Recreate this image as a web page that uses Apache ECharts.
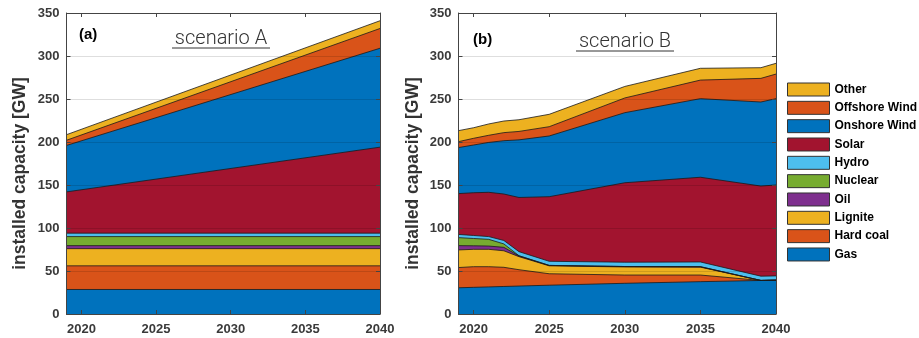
<!DOCTYPE html>
<html>
<head>
<meta charset="utf-8">
<script src="https://cdn.jsdelivr.net/npm/echarts@6/dist/echarts.min.js"></script>
<style>
  html, body { margin: 0; padding: 0; background: #fff; }
  #chart { width: 919px; height: 338px; }
</style>
</head>
<body>
<div id="chart"></div>
<script>
// Installed capacity [GW] per technology, two scenarios

// Scenario A: straight-line development between start and end year
const yearsA = [2019, 2040];
const gasA = [28.5, 28.5];
const hardCoalA = [27.5, 27.5];
const ligniteA = [20, 20];
const oilA = [3.5, 3.5];
const nuclearA = [10.5, 10.5];
const hydroA = [4, 4];
const solarA = [48, 100];
const onshoreA = [54, 115];
const offshoreA = [6, 23];
const otherA = [6.5, 9];

// Scenario B
const yearsB = [2019, 2020, 2021, 2022, 2023, 2025, 2030, 2035, 2039, 2040];
const gasB = [30.5, 31, 31.5, 32, 32.5, 33.5, 35.7, 37.6, 39, 39.3];
const hardCoalB = [23.5, 24, 23.5, 22.3, 19, 13.3, 9.6, 7.7, 0, 0];
const ligniteB = [20.5, 20.2, 20.2, 19.2, 15.2, 9.2, 9.4, 9.2, 0, 0];
const oilB = [5, 4.1, 3.8, 4, 0.8, 0.5, 0.5, 0.5, 0, 0];
const nuclearB = [9.3, 8.5, 7.8, 4, 0.3, 0, 0, 0, 0, 0];
const hydroB = [3.7, 3.5, 3.2, 4, 4.7, 4.8, 5, 5.5, 5, 5];
const solarB = [47.5, 49.7, 51.5, 54, 63, 75.1, 92.4, 98.5, 104.8, 105.7];
const onshoreB = [53.5, 55.5, 58, 62, 67, 70.6, 81.5, 91.4, 97.7, 100.4];
const offshoreB = [6.9, 7.8, 8.3, 9.4, 9.8, 10.8, 17.1, 21.6, 27.5, 28.6];
const otherB = [12.8, 12.3, 13.2, 13.5, 13.6, 14.4, 13.4, 13.7, 12.4, 12.5];

// Stacking order (bottom to top) and fill colours
const techNames = ['Gas', 'Hard coal', 'Lignite', 'Oil', 'Nuclear', 'Hydro',
                   'Solar', 'Onshore Wind', 'Offshore Wind', 'Other'];
const techColors = ['#0072BD', '#D95319', '#EDB120', '#7E2F8E', '#77AC30', '#4DBEEE',
                    '#A2142F', '#0072BD', '#D95319', '#EDB120'];
const valuesA = [gasA, hardCoalA, ligniteA, oilA, nuclearA, hydroA, solarA, onshoreA, offshoreA, otherA];
const valuesB = [gasB, hardCoalB, ligniteB, oilB, nuclearB, hydroB, solarB, onshoreB, offshoreB, otherB];

const xTicks = [2020, 2025, 2030, 2035, 2040];

const axisColor = '#444';
const labelColor = '#3a3a3a';
const font = 'Liberation Sans, Arial, sans-serif';

// Value-axis stacking: each layer is drawn at its running total and filled
// down to zero; upper layers are drawn first so lower ones sit on top.
function makeSeries(years, values, gridIdx) {
  const running = years.map(() => 0);
  const totals = values.map(arr => arr.map((v, k) => (running[k] += v)));
  const out = [];
  for (let i = techNames.length - 1; i >= 0; i--) {
    out.push({
      name: techNames[i],
      type: 'line',
      xAxisIndex: gridIdx * 2,
      yAxisIndex: gridIdx * 2,
      data: years.map((y, k) => [y, totals[i][k]]),
      showSymbol: false,
      symbol: 'none',
      lineStyle: { color: '#1a1a1a', width: 0.8 },
      itemStyle: { color: techColors[i] },
      areaStyle: { color: techColors[i], opacity: 1, origin: 'start' },
      emphasis: { disabled: true },
      silent: true,
      z: 2
    });
  }
  return out;
}

function bottomX(gridIdx) {
  return {
    type: 'value', gridIndex: gridIdx, position: 'bottom',
    min: 2019, max: 2040,
    axisLine: { show: true, onZero: false, lineStyle: { color: axisColor, width: 1 } },
    axisTick: { show: true, inside: true, length: 4, customValues: xTicks,
                lineStyle: { color: axisColor } },
    axisLabel: { customValues: xTicks, margin: 9, color: labelColor,
                 formatter: v => String(v),
                 fontSize: 13, fontWeight: 'bold', fontFamily: font },
    splitLine: { show: false },
    z: 4
  };
}
function topX(gridIdx) {
  return {
    type: 'value', gridIndex: gridIdx, position: 'top',
    min: 2019, max: 2040,
    axisLine: { show: true, onZero: false, lineStyle: { color: axisColor, width: 1 } },
    axisTick: { show: true, inside: true, length: 4, customValues: xTicks,
                lineStyle: { color: axisColor } },
    axisLabel: { show: false },
    splitLine: { show: false },
    z: 4
  };
}
function leftY(gridIdx) {
  return {
    type: 'value', gridIndex: gridIdx, position: 'left',
    min: 0, max: 350, interval: 50,
    axisLine: { show: true, onZero: false, lineStyle: { color: axisColor, width: 1 } },
    axisTick: { show: true, inside: true, length: 4, lineStyle: { color: axisColor } },
    axisLabel: { margin: 7, color: labelColor, fontSize: 13, fontWeight: 'bold', fontFamily: font },
    splitLine: { show: true, lineStyle: { color: 'rgba(0,0,0,0.13)', width: 1 } },
    z: 4
  };
}
function rightY(gridIdx) {
  return {
    type: 'value', gridIndex: gridIdx, position: 'right',
    min: 0, max: 350, interval: 50,
    axisLine: { show: true, onZero: false, lineStyle: { color: axisColor, width: 1 } },
    axisTick: { show: true, inside: true, length: 4, lineStyle: { color: axisColor } },
    axisLabel: { show: false },
    splitLine: { show: false },
    z: 4
  };
}

// Legend listed top-down from the last stacked layer
const legendOrder = techNames.slice().reverse();
const legendColors = techColors.slice().reverse();

const chart = echarts.init(document.getElementById('chart'), null, { renderer: 'canvas' });
chart.setOption({
  animation: false,
  backgroundColor: '#fff',
  grid: [
    { left: 66.5, top: 13, width: 313.5, height: 301 },
    { left: 458.5, top: 13, width: 317.5, height: 301 }
  ],
  xAxis: [bottomX(0), topX(0), bottomX(1), topX(1)],
  yAxis: [leftY(0), rightY(0), leftY(1), rightY(1)],
  legend: {
    orient: 'vertical',
    left: 787, top: 82.5, padding: 0,
    icon: 'rect',
    itemWidth: 42, itemHeight: 13, itemGap: 4.33, itemTextGap: 4,
    selectedMode: false,
    textStyle: { fontSize: 12, fontWeight: 'bold', color: '#000', fontFamily: font },
    data: legendOrder.map((n, i) => ({
      name: n,
      itemStyle: { color: legendColors[i], borderColor: '#333', borderWidth: 1 }
    }))
  },
  series: makeSeries(yearsA, valuesA, 0).concat(makeSeries(yearsB, valuesB, 1)),
  graphic: [
    // y-axis titles
    { type: 'text', x: 20, y: 173.5, rotation: Math.PI / 2,
      style: { text: 'installed capacity [GW]', fill: '#333', fontSize: 17.5, fontWeight: 'bold',
               fontFamily: font, align: 'center', verticalAlign: 'middle' }, silent: true, z: 10 },
    { type: 'text', x: 413, y: 173.5, rotation: Math.PI / 2,
      style: { text: 'installed capacity [GW]', fill: '#333', fontSize: 17.5, fontWeight: 'bold',
               fontFamily: font, align: 'center', verticalAlign: 'middle' }, silent: true, z: 10 },
    // panel tags
    { type: 'text', x: 79, y: 35,
      style: { text: '(a)', fill: '#000', fontSize: 15, fontWeight: 'bold', fontFamily: font,
               verticalAlign: 'middle' }, silent: true, z: 10 },
    { type: 'text', x: 473, y: 40,
      style: { text: '(b)', fill: '#000', fontSize: 15, fontWeight: 'bold', fontFamily: font,
               verticalAlign: 'middle' }, silent: true, z: 10 },
    // scenario headings with underline
    { type: 'text', x: 221, y: 39,
      style: { text: 'scenario A', fill: '#333', fontSize: 20, fontWeight: 300,
               fontFamily: 'Roboto, Lato, sans-serif', align: 'center', verticalAlign: 'middle' },
      silent: true, z: 10 },
    { type: 'line', shape: { x1: 172, y1: 48, x2: 270, y2: 48 },
      style: { stroke: '#333', lineWidth: 1 }, silent: true, z: 10 },
    { type: 'text', x: 625, y: 42,
      style: { text: 'scenario B', fill: '#333', fontSize: 20, fontWeight: 300,
               fontFamily: 'Roboto, Lato, sans-serif', align: 'center', verticalAlign: 'middle' },
      silent: true, z: 10 },
    { type: 'line', shape: { x1: 576, y1: 51, x2: 674, y2: 51 },
      style: { stroke: '#333', lineWidth: 1 }, silent: true, z: 10 }
  ]
});
</script>
</body>
</html>
